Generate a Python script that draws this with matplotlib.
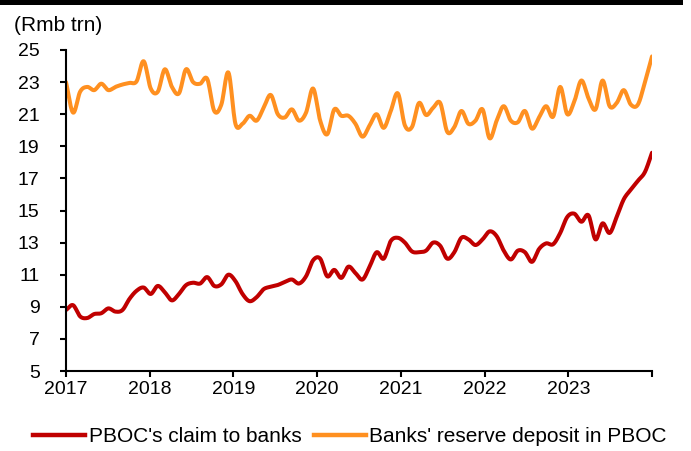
import numpy as np
import matplotlib
matplotlib.use("Agg")
import matplotlib.pyplot as plt
from matplotlib.patches import Rectangle
from matplotlib.lines import Line2D

plt.rcParams['font.family'] = ['Liberation Sans', 'DejaVu Sans']

# monthly stock, Jan 2017 - Dec 2023 (Rmb trn)
claim_to_banks = [
    8.8, 9.1, 8.4, 8.3, 8.55, 8.6, 8.9, 8.7, 8.8, 9.5, 10.0, 10.2,
    9.8, 10.3, 9.9, 9.4, 9.8, 10.35, 10.5, 10.45, 10.85, 10.3, 10.4, 11.0,
    10.6, 9.8, 9.35, 9.6, 10.1, 10.25, 10.36, 10.55, 10.7, 10.45, 10.9, 11.9,
    12.0, 10.9, 11.3, 10.8, 11.5, 11.1, 10.7, 11.5, 12.4, 12.0, 13.1, 13.3,
    13.0, 12.45, 12.4, 12.5, 13.0, 12.8, 12.0, 12.4, 13.3, 13.2, 12.85, 13.2,
    13.7, 13.4, 12.5, 11.95, 12.5, 12.4, 11.8, 12.6, 12.95, 12.9, 13.6, 14.6,
    14.8, 14.3, 14.7, 13.2, 14.2, 13.6, 14.6, 15.7, 16.3, 16.85, 17.4, 18.6,
]
reserve_deposit = [
    23.0, 21.1, 22.4, 22.7, 22.5, 22.9, 22.5, 22.7, 22.85, 22.95, 23.05, 24.3,
    22.6, 22.4, 23.8, 22.7, 22.3, 23.8, 23.0, 22.9, 23.2, 21.2, 21.6, 23.6,
    20.4, 20.4, 20.9, 20.6, 21.4, 22.2, 21.0, 20.8, 21.3, 20.6, 21.1, 22.6,
    20.6, 19.75, 21.3, 20.9, 20.9, 20.4, 19.6, 20.3, 21.0, 20.15, 21.2, 22.3,
    20.3, 20.2, 21.7, 20.95, 21.4, 21.7, 19.9, 20.2, 21.2, 20.4, 20.6, 21.3,
    19.5, 20.6, 21.5, 20.6, 20.5, 21.2, 20.1, 20.8, 21.5, 20.85, 22.7, 21.0,
    21.8, 23.1, 22.0, 21.3, 23.1, 21.5, 21.7, 22.5, 21.6, 21.6, 23.0, 24.6,
]
years = list(range(2017, 2025))
year_labels = [str(y) for y in years[:-1]] + [""]
y_ticks = list(range(5, 26, 2))

RED = "#C00000"
ORANGE = "#FF9020"


def smooth(x, y, n=12):
    # Catmull-Rom curve through every point, like a spreadsheet "smoothed line"
    x = np.asarray(x, float)
    y = np.asarray(y, float)
    px = np.concatenate([[2 * x[0] - x[1]], x, [2 * x[-1] - x[-2]]])
    py = np.concatenate([[2 * y[0] - y[1]], y, [2 * y[-1] - y[-2]]])
    t = np.linspace(0, 1, n, endpoint=False)
    xs, ys = [], []
    for i in range(1, len(px) - 2):
        for p, out in ((px, xs), (py, ys)):
            p0, p1, p2, p3 = p[i - 1], p[i], p[i + 1], p[i + 2]
            out.append(0.5 * ((2 * p1) + (-p0 + p2) * t
                              + (2 * p0 - 5 * p1 + 4 * p2 - p3) * t ** 2
                              + (-p0 + 3 * p1 - 3 * p2 + p3) * t ** 3))
    xs.append([x[-1]])
    ys.append([y[-1]])
    return np.concatenate(xs), np.concatenate(ys)


fig = plt.figure(figsize=(6.91, 4.51), dpi=100)
ax = fig.add_axes([66 / 691, 1 - 371 / 451, 586 / 691, 321 / 451])

x = np.linspace(2017, 2024, len(claim_to_banks))
sx, sy = smooth(x, claim_to_banks)
ax.plot(sx, sy, color=RED, lw=2.9, solid_capstyle="round")
sx, sy = smooth(x, reserve_deposit)
ax.plot(sx, sy, color=ORANGE, lw=2.9, solid_capstyle="round")

ax.set_xlim(2017, 2024)
ax.set_ylim(5, 25)
ax.set_xticks(years)
ax.set_xticklabels(year_labels)
ax.set_yticks(y_ticks)

for s in ("top", "right"):
    ax.spines[s].set_visible(False)
for s in ("left", "bottom"):
    ax.spines[s].set_linewidth(1.5)
    ax.spines[s].set_color("black")
ax.tick_params(axis="y", length=4, width=1.5, pad=15, labelsize=14)
ax.tick_params(axis="x", length=4, width=1.5, pad=3, labelsize=14)

fig.text(14 / 691, 1 - 31 / 451, "(Rmb trn)", fontsize=15, ha="left", va="baseline")

# thick rule across the top
fig.add_artist(Rectangle((0, 1 - 5 / 451), 683 / 691, 5 / 451,
                         transform=fig.transFigure, color="black", lw=0))

handles = [Line2D([], [], color=RED, lw=3.2), Line2D([], [], color=ORANGE, lw=3.2)]
fig.legend(handles, ["PBOC's claim to banks", "Banks' reserve deposit in PBOC"],
           loc="center", bbox_to_anchor=(350 / 691, 1 - 437 / 451), ncol=2,
           frameon=False, fontsize=15, handlelength=2.5, handletextpad=0.15,
           columnspacing=0.6, borderaxespad=0)

fig.savefig("out.png", dpi=100)
